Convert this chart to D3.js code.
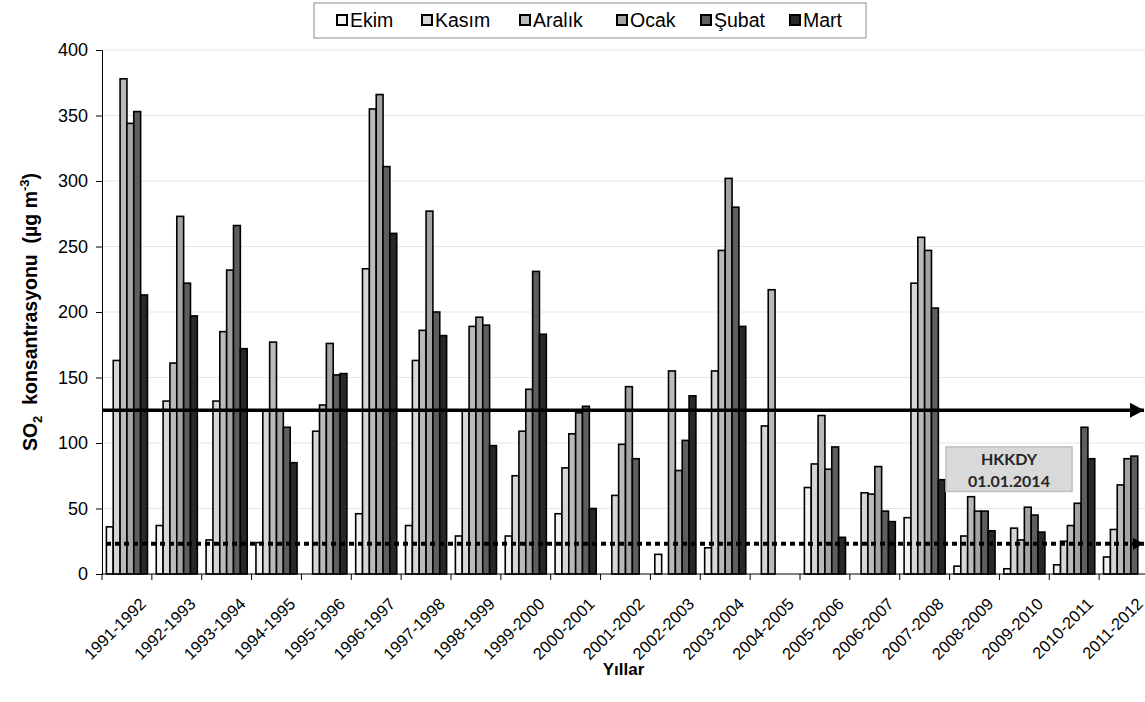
<!DOCTYPE html>
<html>
<head>
<meta charset="utf-8">
<script src="https://cdn.jsdelivr.net/npm/d3@7"></script>
<style>
    body { margin: 0; background: #fff; }
    #chart { width: 1145px; height: 702px; overflow: hidden; }
    text { font-family: Arial, "Liberation Sans", sans-serif; fill: #000; }
</style>
</head>
<body>
<div id="chart"></div>
<script>
// seasons (Oct - Mar) on the x axis
let seasons = ["1991-1992", "1992-1993", "1993-1994", "1994-1995", "1995-1996", "1996-1997", "1997-1998",
    "1998-1999", "1999-2000", "2000-2001", "2001-2002", "2002-2003", "2003-2004", "2004-2005",
    "2005-2006", "2006-2007", "2007-2008", "2008-2009", "2009-2010", "2010-2011", "2011-2012"];
let months = ["Ekim", "Kasım", "Aralık", "Ocak", "Şubat", "Mart"];

// monthly SO2 values, null = no measurement
let ekim   = [36, 37, 26, 24, null, 46, 37, 29, 29, 46, null, 15, 20, null, 66, null, 43, 6, 4, 7, 13];
let kasim  = [163, 132, 132, 125, 109, 233, 163, 125, 75, 81, 60, null, 155, 113, 84, 62, 222, 29, 35, 25, 34];
let aralik = [378, 161, 185, 177, 129, 355, 186, 189, 109, 107, 99, 155, 247, 217, 121, 61, 257, 59, 26, 37, 68];
let ocak   = [344, 273, 232, 125, 176, 366, 277, 196, 141, 123, 143, 79, 302, null, 80, 82, 247, 48, 51, 54, 88];
let subat  = [353, 222, 266, 112, 152, 311, 200, 190, 231, 128, 88, 102, 280, null, 97, 48, 203, 48, 45, 112, 90];
let mart   = [213, 197, 172, 85, 153, 260, 182, 98, 183, 50, null, 136, 189, null, 28, 40, 72, 33, 32, 88, null];

let monthColors = ["#f2f2f2", "#d6d6d6", "#bababa", "#a3a3a3", "#5e5e5e", "#282828"];
let yTicks = [0, 50, 100, 150, 200, 250, 300, 350, 400];

// limit lines
let dailyLimit = 125;
let longTermLimit = 23;

class SeasonBarChart {
    constructor(parentElement) {
        this.parentElement = parentElement;
        this.series = [ekim, kasim, aralik, ocak, subat, mart];
        this.initVis();
    }

    initVis() {
        let vis = this;
        vis.outerWidth = 1145;
        vis.outerHeight = 702;
        vis.margin = {top: 50, right: -4, bottom: 128, left: 102};
        vis.width = vis.outerWidth - vis.margin.left - vis.margin.right;
        vis.height = vis.outerHeight - vis.margin.top - vis.margin.bottom;

        vis.root = d3.select("#" + vis.parentElement).append("svg")
            .attr("width", vis.outerWidth)
            .attr("height", vis.outerHeight);

        vis.svg = vis.root.append("g")
            .attr("transform", "translate(" + vis.margin.left + "," + vis.margin.top + ")");

        // scales
        vis.x0 = d3.scaleBand()
            .domain(seasons)
            .range([0, vis.width])
            .paddingInner(0.176)
            .paddingOuter(0.088);

        vis.x1 = d3.scaleBand()
            .domain(months)
            .range([0, vis.x0.bandwidth()]);

        vis.y = d3.scaleLinear()
            .domain([0, 400])
            .range([vis.height, 0]);

        // gridlines
        vis.svg.selectAll(".grid")
            .data(yTicks.filter(d => d > 0))
            .enter()
            .append("line")
            .attr("class", "grid")
            .attr("x1", 0)
            .attr("x2", vis.width)
            .attr("y1", d => vis.y(d))
            .attr("y2", d => vis.y(d))
            .style("stroke", "#e6e6e6")
            .style("stroke-width", 1);

        // bars
        let rows = [];
        seasons.forEach(function(s, i) {
            months.forEach(function(m, j) {
                if (vis.series[j][i] !== null) {
                    rows.push({season: s, month: m, idx: j, value: vis.series[j][i]});
                }
            });
        });

        vis.svg.selectAll(".bar")
            .data(rows)
            .enter()
            .append("rect")
            .attr("class", "bar")
            .attr("x", d => vis.x0(d.season) + vis.x1(d.month))
            .attr("width", vis.x1.bandwidth())
            .attr("y", d => vis.y(d.value))
            .attr("height", d => vis.height - vis.y(d.value))
            .style("fill", d => monthColors[d.idx])
            .style("stroke", "#000")
            .style("stroke-width", 1.6);

        // y axis
        vis.yAxis = d3.axisLeft(vis.y)
            .tickValues(yTicks)
            .tickSize(6)
            .tickPadding(8);

        vis.svg.append("g")
            .attr("class", "y-axis")
            .call(vis.yAxis)
            .call(g => g.select(".domain").style("stroke", "#000"))
            .call(g => g.selectAll(".tick line").style("stroke", "#000"))
            .call(g => g.selectAll("text").style("font-size", "18px").style("font-family", "Arial, 'Liberation Sans'"));

        // x axis: ticks between the seasons, labels in the middle
        let step = vis.x0.step();
        let bounds = d3.range(seasons.length + 1).map(i => i * step);

        vis.svg.append("line")
            .attr("x1", 0)
            .attr("x2", vis.width)
            .attr("y1", vis.height)
            .attr("y2", vis.height)
            .style("stroke", "#000");

        vis.svg.selectAll(".xtick")
            .data(bounds)
            .enter()
            .append("line")
            .attr("class", "xtick")
            .attr("x1", d => d)
            .attr("x2", d => d)
            .attr("y1", vis.height)
            .attr("y2", vis.height + 6)
            .style("stroke", "#000");

        vis.svg.selectAll(".xlabel")
            .data(seasons)
            .enter()
            .append("text")
            .attr("class", "xlabel")
            .attr("text-anchor", "end")
            .attr("transform", d => "translate(" + (vis.x0(d) + vis.x0.bandwidth() / 2 + 20) + "," + (vis.height + 31) + ") rotate(-45)")
            .style("font-size", "16.5px")
            .text(d => d);

        // limit lines with arrows
        let defs = vis.root.append("defs");
        defs.append("marker")
            .attr("id", "arrowSolid")
            .attr("markerUnits", "userSpaceOnUse")
            .attr("markerWidth", 14)
            .attr("markerHeight", 15)
            .attr("refX", 14)
            .attr("refY", 7.5)
            .attr("orient", "auto")
            .append("path")
            .attr("d", "M0,0 L14,7.5 L0,15 Z")
            .style("fill", "#000");

        defs.append("marker")
            .attr("id", "arrowSmall")
            .attr("markerUnits", "userSpaceOnUse")
            .attr("markerWidth", 11)
            .attr("markerHeight", 12)
            .attr("refX", 11)
            .attr("refY", 6)
            .attr("orient", "auto")
            .append("path")
            .attr("d", "M0,0 L11,6 L0,12 Z")
            .style("fill", "#000");

        let lineEnd = vis.outerWidth - vis.margin.left - 1;

        vis.svg.append("line")
            .attr("x1", 0)
            .attr("x2", lineEnd)
            .attr("y1", vis.y(dailyLimit))
            .attr("y2", vis.y(dailyLimit))
            .style("stroke", "#000")
            .style("stroke-width", 3.5)
            .attr("marker-end", "url(#arrowSolid)");

        vis.svg.append("line")
            .attr("x1", 4)
            .attr("x2", lineEnd)
            .attr("y1", vis.y(longTermLimit))
            .attr("y2", vis.y(longTermLimit))
            .style("stroke", "#000")
            .style("stroke-width", 4)
            .style("stroke-dasharray", "5,4")
            .attr("marker-end", "url(#arrowSmall)");

        // HKKDY note
        let noteX = vis.x0("2008-2009") - 8;
        let note = vis.svg.append("g");
        note.append("rect")
            .attr("x", noteX)
            .attr("y", vis.y(97))
            .attr("width", step * 2.53)
            .attr("height", vis.y(63) - vis.y(97))
            .style("fill", "#d9d9d9")
            .style("stroke", "#bfbfbf")
            .style("stroke-width", 1.5);
        note.selectAll("text")
            .data(["HKKDY", "01.01.2014"])
            .enter()
            .append("text")
            .attr("x", noteX + step * 2.53 / 2)
            .attr("y", (d, i) => vis.y(97) + 18 + i * 22)
            .attr("text-anchor", "middle")
            .style("font-family", "Lato, 'Open Sans', sans-serif")
            .style("font-weight", 700)
            .style("font-size", "16px")
            .style("fill", "#262626")
            .text(d => d);

        // axis titles
        let yTitle = vis.root.append("text")
            .attr("transform", "translate(37," + (vis.margin.top + vis.height / 2) + ") rotate(-90)")
            .attr("text-anchor", "middle")
            .style("font-size", "19.5px")
            .style("font-weight", "bold");
        yTitle.append("tspan").text("SO");
        yTitle.append("tspan").attr("dy", 5).style("font-size", "13px").text("2");
        yTitle.append("tspan").attr("dy", -5).text("  konsantrasyonu  (µg m").attr("xml:space", "preserve");
        yTitle.append("tspan").attr("dy", -8).style("font-size", "13px").text("-3");
        yTitle.append("tspan").attr("dy", 8).text(")");

        vis.root.append("text")
            .attr("x", vis.margin.left + (vis.outerWidth - vis.margin.left) / 2)
            .attr("y", 675)
            .attr("text-anchor", "middle")
            .style("font-size", "17px")
            .style("font-weight", "bold")
            .text("Yıllar");

        // legend
        let legend = vis.root.append("g").attr("transform", "translate(314,3)");
        legend.append("rect")
            .attr("width", 552)
            .attr("height", 35)
            .style("fill", "#fff")
            .style("stroke", "#8c8c8c")
            .style("stroke-width", 1);

        let legendX = [23, 108, 206, 303, 387, 476];
        let items = legend.selectAll(".legend-item")
            .data(months)
            .enter()
            .append("g")
            .attr("class", "legend-item")
            .attr("transform", (d, i) => "translate(" + legendX[i] + ",0)");
        items.append("rect")
            .attr("x", 0)
            .attr("y", 12)
            .attr("width", 10)
            .attr("height", 10)
            .style("fill", (d, i) => monthColors[i])
            .style("stroke", "#000")
            .style("stroke-width", 2);
        items.append("text")
            .attr("x", 13)
            .attr("y", 24)
            .style("font-size", "19.5px")
            .text(d => d);
    }
}

new SeasonBarChart("chart");
</script>
</body>
</html>
